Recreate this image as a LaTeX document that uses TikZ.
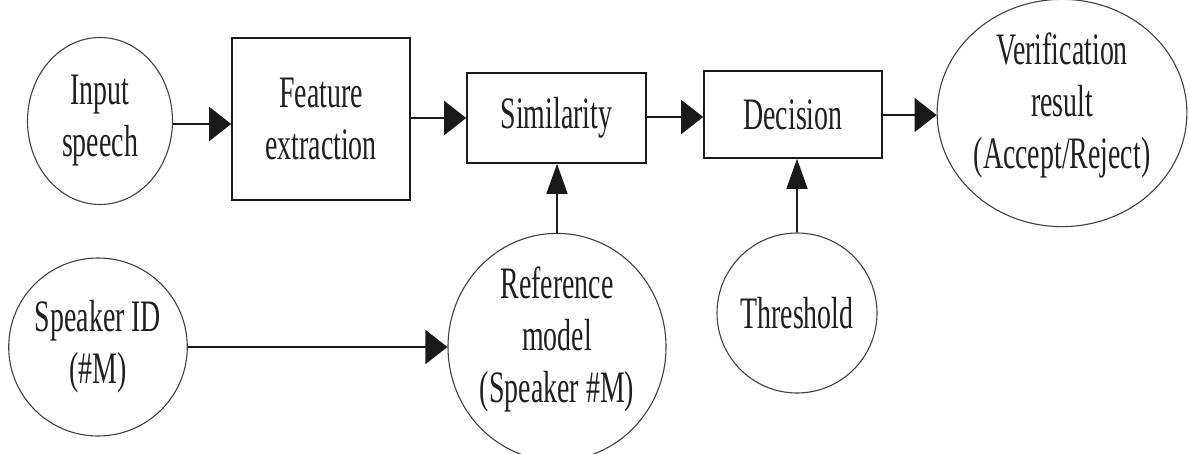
\documentclass[tikz,border=0pt]{standalone}
\usepackage{fontspec}
\newfontfamily\lblfont[FakeStretch=0.62]{Liberation Serif}
\usetikzlibrary{shapes.geometric,arrows.meta}
\begin{document}
\begin{tikzpicture}[x=1pt,y=-1pt,
  lbl/.style={font=\lblfont\fontsize{45}{52}\selectfont, text=black!88, align=center, inner sep=0pt},
  blockbox/.style={lbl, draw=black!90, line width=1.6pt, rectangle},
  ovalnode/.style={lbl, draw=black!75, line width=1.1pt, ellipse},
  flowh/.style={draw=black!90, line width=1.6pt, -{Triangle[length=22pt,width=34pt]}},
  flowv/.style={draw=black!90, line width=1.6pt, -{Triangle[length=30pt,width=21pt]}}]
\useasboundingbox (0,0) rectangle (1190,454);

% top row: processing chain
\node[ovalnode, minimum width=145pt, minimum height=167pt] (inp) at (100,121) {Input\\speech};
\node[blockbox, minimum width=178pt, minimum height=162pt] (feat) at (321,119) {Feature\\extraction};
\node[blockbox, minimum width=179pt, minimum height=90pt] (sim) at (556.5,118) {Similarity};
\node[blockbox, minimum width=178pt, minimum height=87pt] (dec) at (793,114.5) {Decision};
\node[ovalnode, minimum width=237pt, minimum height=211pt, text depth=25pt] (ver) at (1062,113) {Verification\\result\\(Accept/Reject)};

% bottom row: inputs to the comparison and decision
\node[ovalnode, minimum width=170pt, minimum height=178pt] (spk) at (98,347) {Speaker ID\\(\#M)};
\node[ovalnode, minimum width=217pt, minimum height=213pt, text depth=25pt] (ref) at (557,347) {Reference\\model\\(Speaker \#M)};
\node[ovalnode, minimum width=150pt, minimum height=160pt] (thr) at (797,313) {Threshold};

% connectors
\draw[flowh] (inp.east |- 0,124) -- (feat.west |- 0,124);
\draw[flowh] (feat.east |- sim.west) -- (sim.west);
\draw[flowh] (sim.east |- 0,117) -- (dec.west |- 0,117);
\draw[flowh] (dec.east |- 0,115) -- (ver.west |- 0,115);
\draw[flowh] (spk) -- (ref);
\draw[flowv] (ref.north) -- (ref.north |- sim.south);
\draw[flowv] (thr.north) -- (thr.north |- dec.south);
\end{tikzpicture}
\end{document}
